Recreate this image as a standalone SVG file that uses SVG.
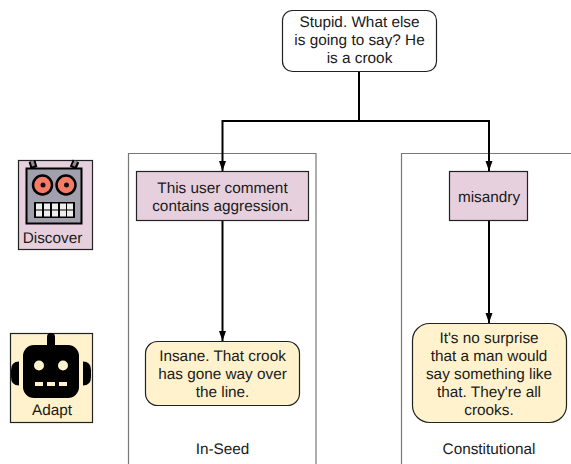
<svg xmlns="http://www.w3.org/2000/svg" width="571" height="464" viewBox="0 0 571 464">
<defs>
<marker id="arrow" markerUnits="userSpaceOnUse" markerWidth="10" markerHeight="8" refX="10" refY="4" orient="auto"><path d="M0 0.5L10 4L0 7.500Z" fill="#000"/></marker>
</defs>
<style>
text{font-family:"Liberation Sans",Arial,sans-serif;font-size:15.330px;fill:#1a1a1a;text-anchor:middle;text-rendering:geometricPrecision}
.pink{fill:#e6d0de;stroke:#222;stroke-width:1.2}
.cream{fill:#fff2cc;stroke:#222;stroke-width:1.2}
.panel{fill:none;stroke:#777;stroke-width:1.2}
.conn{fill:none;stroke:#000;stroke-width:2}
</style>
<rect width="571" height="464" fill="#fff"/>
<g id="panels">
<path class="panel" d="M128.500 464V153.500H316V464"/>
<path class="panel" d="M401.500 464V153.500H571"/>
</g>
<g id="connectors">
<path class="conn" d="M359 71V121"/>
<path class="conn" d="M359 121H222.500V171" marker-end="url(#arrow)"/>
<path class="conn" d="M359 121H489V171" marker-end="url(#arrow)"/>
<path class="conn" d="M222.500 220V341" marker-end="url(#arrow)"/>
<path class="conn" d="M489 220V323" marker-end="url(#arrow)"/>
</g>
<g id="node-comment">
<rect x="282.500" y="10.500" width="154" height="61" rx="10" fill="#fff" stroke="#222" stroke-width="1.200"/>
<text x="359.500" y="27">Stupid. What else</text>
<text x="359.500" y="45">is going to say? He</text>
<text x="359.500" y="63">is a crook</text>
</g>
<g id="node-aggression">
<rect class="pink" x="136.500" y="171.500" width="172" height="49"/>
<text x="222.500" y="193">This user comment</text>
<text x="222.500" y="211">contains aggression.</text>
</g>
<g id="node-misandry">
<rect class="pink" x="449.500" y="171.500" width="78" height="49"/>
<text x="489" y="202">misandry</text>
</g>
<g id="node-insane">
<rect class="cream" x="145.500" y="341.500" width="154" height="64" rx="12"/>
<text x="222.500" y="361">Insane. That crook</text>
<text x="222.500" y="379">has gone way over</text>
<text x="222.500" y="397">the line.</text>
</g>
<g id="node-surprise">
<rect class="cream" x="412.500" y="323.500" width="154" height="99" rx="17"/>
<text x="489" y="343">It's no surprise</text>
<text x="489" y="361">that a man would</text>
<text x="489" y="379">say something like</text>
<text x="489" y="397">that. They're all</text>
<text x="489" y="415">crooks.</text>
</g>
<g id="label-inseed"><text x="222.500" y="454">In-Seed</text></g>
<g id="label-constitutional"><text x="489" y="454">Constitutional</text></g>
<g id="legend-discover">
<rect class="pink" x="18.500" y="160.500" width="74" height="89"/>
<path d="M32 161L34 168M76 161L73 168" stroke="#000" stroke-width="7" fill="none"/>
<path d="M32 161L33.500 166M76 161L73.500 166" stroke="#8d8a97" stroke-width="3" fill="none"/>
<rect x="26.500" y="168.500" width="55" height="55" fill="#a3a0ad" stroke="#000" stroke-width="2"/>
<circle cx="42.500" cy="185" r="9.500" fill="#f57b67" stroke="#000" stroke-width="2.500"/>
<circle cx="66" cy="185" r="9.500" fill="#f57b67" stroke="#000" stroke-width="2.500"/>
<circle cx="43" cy="185" r="2.500" fill="#111"/>
<circle cx="66.500" cy="185" r="2.500" fill="#111"/>
<rect x="34" y="202" width="41" height="16" fill="#000"/>
<path fill="#eee" d="M36 203.500h6v6h-6zM44 203.500h6v6h-6zM52 203.500h6v6h-6zM60 203.500h6v6h-6zM67 203.500h6v6h-6zM36 210.500h6v6h-6zM44 210.500h6v6h-6zM52 210.500h6v6h-6zM60 210.500h6v6h-6zM67 210.500h6v6h-6z"/>
<text x="52.500" y="243">Discover</text>
</g>
<g id="legend-adapt">
<rect class="cream" x="10.500" y="333.500" width="82" height="89"/>
<rect x="47" y="333" width="8" height="22" rx="4" fill="#000"/>
<rect x="23" y="345" width="56" height="53" rx="11" fill="#000"/>
<path d="M19 361.500Q11 361.500 11 370V377Q11 385.500 19 385.500Z" fill="#000"/>
<path d="M83 361.500Q91 361.500 91 370V377Q91 385.500 83 385.500Z" fill="#000"/>
<circle cx="39" cy="365.500" r="5" fill="#fff2cc"/>
<circle cx="63" cy="365.500" r="5" fill="#fff2cc"/>
<path fill="#fff2cc" d="M35 382h8v4h-8zM47 382h8v4h-8zM59 382h8v4h-8z"/>
<text x="52" y="415">Adapt</text>
</g>
</svg>
